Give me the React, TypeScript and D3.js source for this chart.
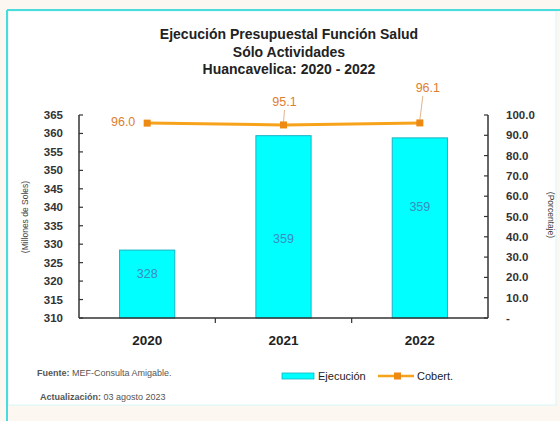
import React from "react";
import * as d3 from "d3";

const years = ["2020", "2021", "2022"];
const ejecucion = [328.4, 359.4, 358.8];
const cobertura = [96.0, 95.1, 96.1];
const leftTicks = [310, 315, 320, 325, 330, 335, 340, 345, 350, 355, 360, 365];
const rightTicks = [0, 10, 20, 30, 40, 50, 60, 70, 80, 90, 100];
const titleLines = ["Ejecución Presupuestal Función Salud", "Sólo Actividades", "Huancavelica: 2020 - 2022"];

const FONT = "'Liberation Sans Narrow', 'Liberation Sans', Arial, sans-serif";

export default function App() {
  const W = 560, H = 421;
  const plotL = 79, plotR = 488, plotT = 115, plotB = 318;
  const x = d3.scaleBand<string>().domain(years).range([plotL, plotR]).padding(0);
  const yL = d3.scaleLinear().domain([310, 365]).range([plotB, plotT]);
  const yR = d3.scaleLinear().domain([0, 100]).range([plotB, plotT]);
  const barW = x.bandwidth() * 0.405;
  const cx = (y: string) => (x(y) as number) + x.bandwidth() / 2;
  const fmt0 = d3.format(".0f");
  const fmt1 = d3.format(".1f");
  const line = d3.line<number>().x((_, i) => cx(years[i])).y(d => yR(d));
  // label offsets (layout)
  const barLabelDy = [-10, 12, -21];
  const lineLabel = [
    { dx: -24, dy: 3, anchor: "middle", leader: false },
    { dx: 1, dy: -19, anchor: "middle", leader: true },
    { dx: 8, dy: -31, anchor: "middle", leader: true },
  ];
  return (
    <svg width={W} height={H} style={{ position: "absolute", left: 0, top: 0 }} fontFamily={FONT}>
      <rect x={0} y={0} width={W} height={H} fill="#FDF7F2" />
      <rect x={8} y={11} width={548} height={394} fill="#FFFFFF" stroke="#D8F6F6" strokeWidth={1} />
      <line x1={7} x2={W} y1={10} y2={10} stroke="#48DCDC" strokeWidth={2} />
      <line x1={7} x2={7} y1={10} y2={H} stroke="#48DCDC" strokeWidth={2} />
      {/* title */}
      {titleLines.map((t, i) => (
        <text key={i} x={289} y={39 + i * 17.5} textAnchor="middle" fontSize={14} fontWeight="bold" fill="#222">{t}</text>
      ))}
      {/* bars */}
      {years.map((yr, i) => (
        <g key={yr}>
          <rect x={cx(yr) - barW / 2} y={yL(ejecucion[i])} width={barW} height={plotB - yL(ejecucion[i])}
            fill="#00FFFF" stroke="#1AB3C4" strokeWidth={1} />
          <text x={cx(yr)} y={(yL(ejecucion[i]) + plotB) / 2 + barLabelDy[i] + 4} textAnchor="middle" fontSize={12.5} fill="#3A8CBF">{fmt0(ejecucion[i])}</text>
        </g>
      ))}
      {/* axes */}
      <line x1={plotL} x2={plotL} y1={plotT} y2={plotB} stroke="#333" strokeWidth={1.5} />
      <line x1={plotR} x2={plotR} y1={plotT} y2={plotB} stroke="#333" strokeWidth={1.5} />
      <line x1={plotL} x2={plotR} y1={plotB} y2={plotB} stroke="#333" strokeWidth={1.5} />
      {leftTicks.map(t => (
        <g key={t}>
          <line x1={plotL} x2={plotL + 4} y1={yL(t)} y2={yL(t)} stroke="#333" strokeWidth={1.2} />
          <text x={63} y={yL(t) + 4} textAnchor="end" fontSize={11.5} fontWeight="bold" fill="#333">{t}</text>
        </g>
      ))}
      {rightTicks.map(t => (
        <g key={t}>
          <line x1={plotR - 4} x2={plotR} y1={yR(t)} y2={yR(t)} stroke="#333" strokeWidth={1.2} />
          <text x={506} y={yR(t) + 4} textAnchor="start" fontSize={11.5} fontWeight="bold" fill="#333">{t === 0 ? "-" : fmt1(t)}</text>
        </g>
      ))}
      {years.slice(1).map(yr => (
        <line key={yr} x1={x(yr) as number} x2={x(yr) as number} y1={plotB} y2={plotB + 5} stroke="#333" strokeWidth={1.2} />
      ))}
      {years.map(yr => (
        <text key={yr} x={cx(yr)} y={345} textAnchor="middle" fontSize={13.5} fontWeight="bold" fill="#222">{yr}</text>
      ))}
      <text transform={`translate(28,${217}) rotate(-90)`} textAnchor="middle" fontSize={8.5} fill="#444">(Millones de Soles)</text>
      <text transform={`translate(548,${215}) rotate(90)`} textAnchor="middle" fontSize={8.5} fill="#444">(Porcentaje)</text>
      {/* line */}
      <path d={line(cobertura) || ""} fill="none" stroke="#F7A21B" strokeWidth={3} />
      {cobertura.map((v, i) => (
        <rect key={i} x={cx(years[i]) - 3.5} y={yR(v) - 3.5} width={7} height={7} fill="#EE8A12" />
      ))}
      {cobertura.map((v, i) => {
        const lx = cx(years[i]) + lineLabel[i].dx;
        const ly = yR(v) + lineLabel[i].dy;
        return (
          <g key={i}>
            {lineLabel[i].leader && (
              <line x1={lx - (lineLabel[i].dx > 2 ? 5 : 0)} y1={ly + 4} x2={cx(years[i])} y2={yR(v) - 3} stroke="#D9A070" strokeWidth={0.8} />
            )}
            <text x={lx} y={ly} textAnchor={lineLabel[i].anchor as any} fontSize={12.5} fill="#E07E30">{fmt1(v)}</text>
          </g>
        );
      })}
      {/* source */}
      <text x={37} y={376} fontSize={9} fill="#555"><tspan fontWeight="bold">Fuente:</tspan> MEF-Consulta Amigable.</text>
      <text x={40} y={400} fontSize={9} fill="#555"><tspan fontWeight="bold">Actualización:</tspan> 03 agosto 2023</text>
      {/* legend */}
      <rect x={282} y={373} width={32} height={6} fill="#00FFFF" stroke="#1AB3C4" strokeWidth={0.8} />
      <text x={318} y={380} fontSize={11} fill="#222">Ejecución</text>
      <line x1={378} x2={414} y1={376} y2={376} stroke="#F7A21B" strokeWidth={2.5} />
      <rect x={394} y={372.5} width={7} height={7} fill="#EE8A12" />
      <text x={417} y={380} fontSize={11} fill="#222">Cobert.</text>
    </svg>
  );
}
